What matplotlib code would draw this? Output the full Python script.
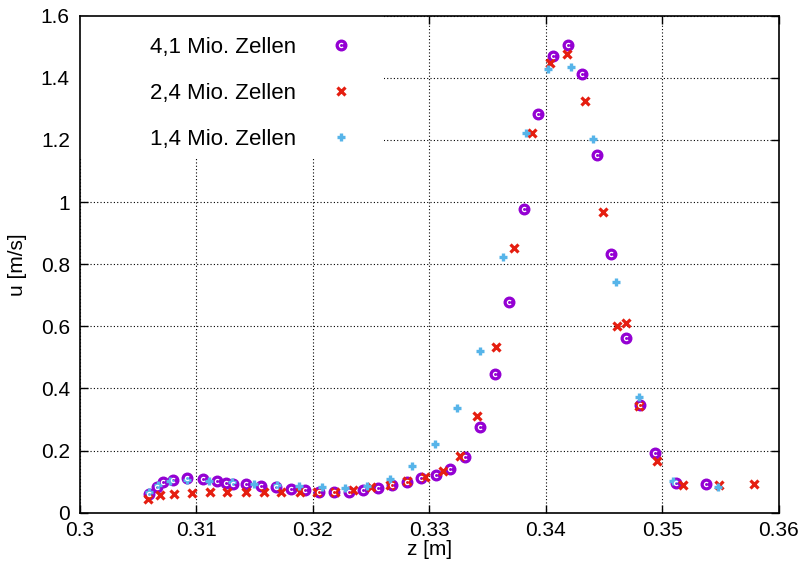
import numpy as np
import matplotlib
matplotlib.use("Agg")
import matplotlib.pyplot as plt
from matplotlib.path import Path
from matplotlib.patches import Rectangle

plt.rcParams['font.family'] = ['Liberation Sans', 'DejaVu Sans']

# 4,1 Mio. Zellen
z_41 = [0.30594, 0.30660, 0.30715, 0.30803, 0.30924, 0.31055, 0.31181, 0.31255,
        0.31318, 0.31430, 0.31555, 0.31681, 0.31810, 0.31930, 0.32056, 0.32187,
        0.32310, 0.32433, 0.32559, 0.32682, 0.32811, 0.32933, 0.33062, 0.33182,
        0.33311, 0.33439, 0.33562, 0.33685, 0.33814, 0.33937, 0.34063, 0.34188,
        0.34311, 0.34437, 0.34563, 0.34689, 0.34811, 0.34937, 0.35120, 0.35374]
u_41 = [0.061, 0.082, 0.098, 0.106, 0.113, 0.107, 0.102, 0.097,
        0.093, 0.091, 0.087, 0.082, 0.077, 0.073, 0.068, 0.068,
        0.068, 0.074, 0.081, 0.090, 0.098, 0.111, 0.122, 0.141,
        0.179, 0.275, 0.445, 0.679, 0.979, 1.285, 1.471, 1.506,
        1.412, 1.152, 0.833, 0.561, 0.348, 0.193, 0.095, 0.091]

# 2,4 Mio. Zellen
z_24 = [0.30589, 0.30689, 0.30809, 0.30966, 0.31118, 0.31269, 0.31424, 0.31578,
        0.31732, 0.31887, 0.32041, 0.32190, 0.32347, 0.32504, 0.32659, 0.32813,
        0.32962, 0.33116, 0.33268, 0.33410, 0.33576, 0.33728, 0.33883, 0.34034,
        0.34186, 0.34340, 0.34491, 0.34608, 0.34685, 0.34797, 0.34950, 0.35180,
        0.35486, 0.35789]
u_24 = [0.045, 0.058, 0.059, 0.063, 0.065, 0.065, 0.065, 0.065,
        0.065, 0.065, 0.066, 0.068, 0.074, 0.082, 0.089, 0.101,
        0.115, 0.133, 0.182, 0.310, 0.532, 0.852, 1.221, 1.449,
        1.476, 1.326, 0.967, 0.602, 0.610, 0.343, 0.167, 0.090,
        0.090, 0.091]

# 1,4 Mio. Zellen
z_14 = [0.30594, 0.30672, 0.30774, 0.30918, 0.31109, 0.31310, 0.31495, 0.31690,
        0.31884, 0.32078, 0.32275, 0.32467, 0.32661, 0.32853, 0.33047, 0.33239,
        0.33436, 0.33630, 0.33831, 0.34020, 0.34217, 0.34408, 0.34603, 0.34797,
        0.35088, 0.35474]
u_14 = [0.068, 0.088, 0.102, 0.104, 0.102, 0.098, 0.091, 0.088,
        0.086, 0.082, 0.081, 0.087, 0.107, 0.149, 0.222, 0.336,
        0.521, 0.822, 1.221, 1.428, 1.434, 1.203, 0.742, 0.374,
        0.103, 0.082]

labels = ["4,1 Mio. Zellen", "2,4 Mio. Zellen", "1,4 Mio. Zellen"]
xticks = [0.3, 0.31, 0.32, 0.33, 0.34, 0.35, 0.36]
yticks = [0, 0.2, 0.4, 0.6, 0.8, 1, 1.2, 1.4, 1.6]

purple = "#9400d3"
red = "#e51e10"
blue = "#56b4e9"

# kleiner offener Bogen als "c" im Kreis
arc = Path.arc(40, 320)

fig = plt.figure(figsize=(8.08, 5.67), dpi=100)
ax = fig.add_axes([0.0985, 0.0958, 0.8655, 0.8765])

h1, = ax.plot(z_41, u_41, ls="none", marker="o", ms=7.6, mfc=purple, mec=purple, zorder=3)
h1c, = ax.plot(z_41, u_41, ls="none", marker=arc, ms=3, mfc="none", mec="white", mew=0.9, zorder=4)
h2, = ax.plot(z_24, u_24, ls="none", marker="x", ms=5.2, mec=red, mew=2.3, zorder=3)
h3, = ax.plot(z_14, u_14, ls="none", marker="+", ms=6.0, mec=blue, mew=2.4, zorder=3)

ax.set_xlim(0.3, 0.36)
ax.set_ylim(0, 1.6)
ax.set_xticks(xticks)
ax.set_xticklabels([f"{v:g}" for v in xticks])
ax.set_yticks(yticks)
ax.set_yticklabels([f"{v:g}" for v in yticks])
ax.tick_params(direction="in", length=6, width=1, top=True, right=True, labelsize=15)
ax.tick_params(axis="x", pad=6)
ax.tick_params(axis="y", pad=7)
ax.grid(True, color="black", linestyle=(0, (1, 2)), linewidth=0.8)
ax.set_axisbelow(True)
for s in ax.spines.values():
    s.set_linewidth(1.2)

ax.set_xlabel("z [m]", fontsize=15, labelpad=0)
ax.set_ylabel("u [m/s]", fontsize=15, labelpad=10)

# weisser Hintergrund der Legende (verdeckt das Gitter)
ax.add_patch(Rectangle((0, 0.712), 0.435, 0.288, transform=ax.transAxes,
                       facecolor="white", edgecolor="none", zorder=2))

leg = ax.legend([(h1, h1c), h2, h3], labels, loc="upper right", bbox_to_anchor=(0.389, 0.958),
                markerfirst=False, fontsize=16, frameon=False,
                labelspacing=1.13, handletextpad=1.5, borderpad=0.0, borderaxespad=0.0,
                handlelength=1.0)
leg.set_zorder(5)

fig.savefig("out.png", dpi=100)
